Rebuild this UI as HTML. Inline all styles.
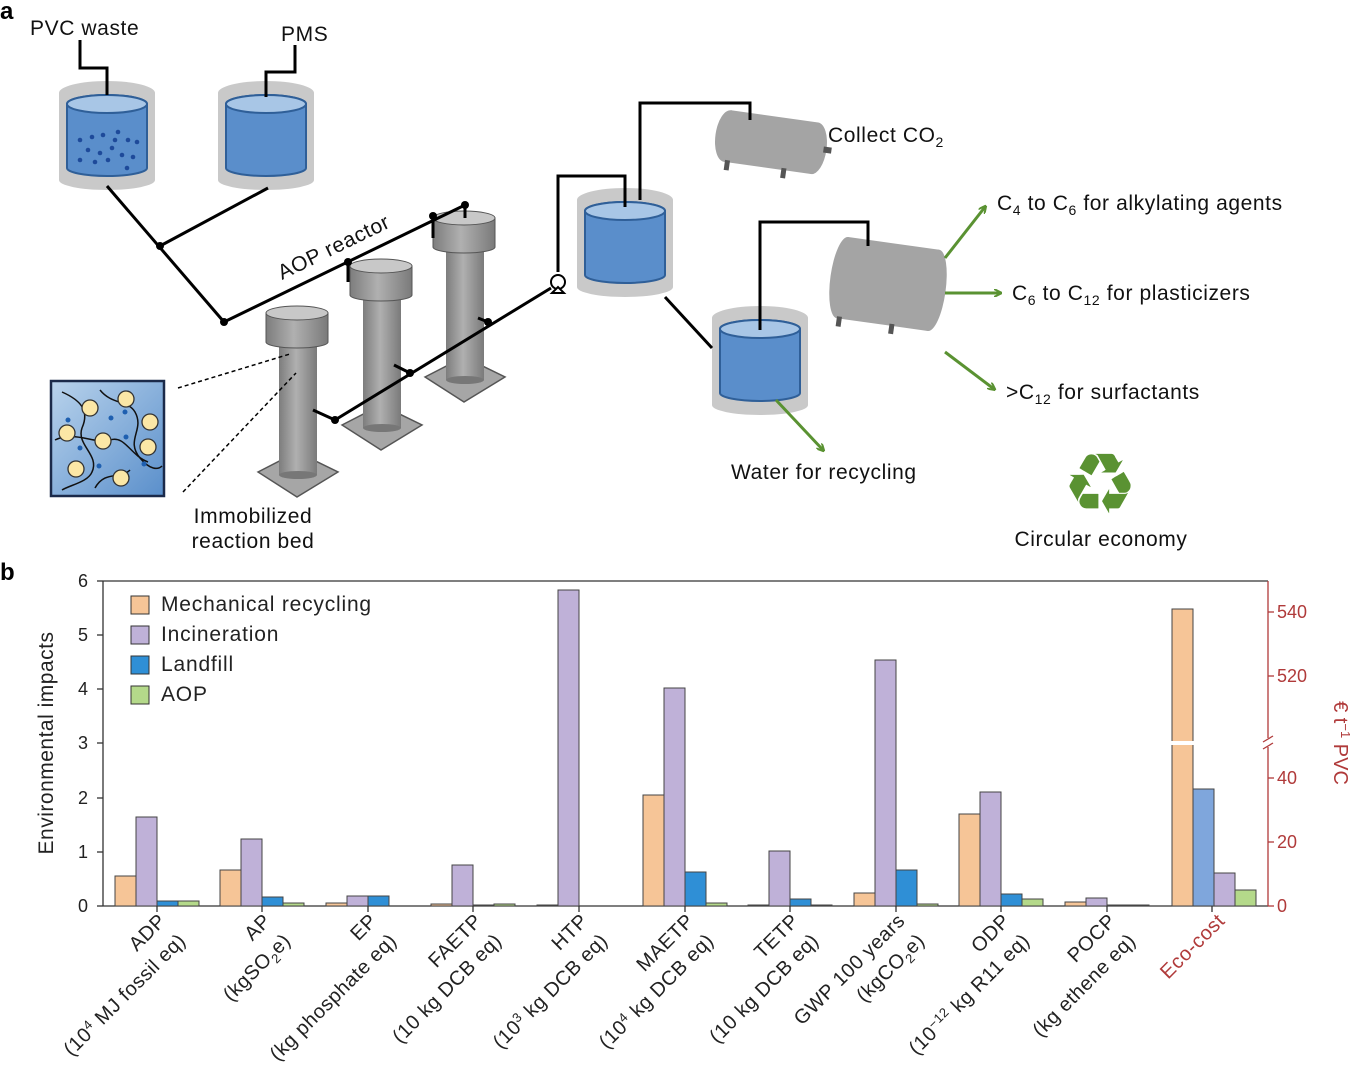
<!DOCTYPE html>
<html><head><meta charset="utf-8"><style>
html,body{margin:0;padding:0;background:#fff;}
svg{display:block;font-family:"Liberation Sans","DejaVu Sans",sans-serif;}
</style></head><body>
<svg width="1354" height="1080" viewBox="0 0 1354 1080" xmlns="http://www.w3.org/2000/svg">
<defs>
<linearGradient id="gr" x1="0" x2="1"><stop offset="0" stop-color="#7d7d7d"/><stop offset="0.45" stop-color="#b0b0b0"/><stop offset="1" stop-color="#7a7a7a"/></linearGradient>
<linearGradient id="inset" x1="0" y1="0" x2="1" y2="1"><stop offset="0" stop-color="#b9d3ec"/><stop offset="1" stop-color="#5a8fcb"/></linearGradient>
<marker id="ga" markerWidth="8" markerHeight="8" refX="6" refY="4" orient="auto" markerUnits="userSpaceOnUse"><path d="M0,0 L8,4 L0,8" fill="none" stroke="#5a9232" stroke-width="2"/></marker>
</defs>
<text x="0" y="19" font-size="24" font-weight="bold">a</text>
<text x="0" y="580" font-size="24" font-weight="bold">b</text>

<g id="t1">
<path d="M59,93 A48,12 0 0 1 155,93 L155,180 A48,10 0 0 1 59,180 Z" fill="#c9c9c9"/>
<path d="M67,104 A40,9 0 0 1 147,104 L147,168 A40,8 0 0 1 67,168 Z" fill="#5a8ecb" stroke="#2f5f98" stroke-width="2"/>
<ellipse cx="107" cy="104" rx="40" ry="9" fill="#a8c6e6" stroke="#2f5f98" stroke-width="2"/>
</g>
<g fill="#1e4a9a">
<circle cx="80" cy="140" r="2.3"/><circle cx="92" cy="137" r="2.3"/><circle cx="103" cy="135" r="2.3"/><circle cx="118" cy="132" r="2.3"/><circle cx="128" cy="140" r="2.3"/><circle cx="137" cy="142" r="2.3"/><circle cx="88" cy="150" r="2.3"/><circle cx="100" cy="153" r="2.3"/><circle cx="112" cy="148" r="2.3"/><circle cx="122" cy="155" r="2.3"/><circle cx="133" cy="157" r="2.3"/><circle cx="80" cy="160" r="2.3"/><circle cx="95" cy="162" r="2.3"/><circle cx="108" cy="160" r="2.3"/><circle cx="127" cy="168" r="2.3"/><circle cx="115" cy="140" r="2.3"/>
</g>
<g transform="translate(159,0)"><use href="#t1"/></g>
<g transform="translate(518,107)"><use href="#t1"/></g>
<g transform="translate(653,225)"><use href="#t1"/></g>

<g transform="rotate(8 770 142)">
<rect x="727" y="116" width="88" height="52" fill="#a4a4a4"/>
<ellipse cx="727" cy="142" rx="12" ry="26" fill="#a4a4a4"/>
<ellipse cx="815" cy="142" rx="12" ry="26" fill="#a4a4a4"/>
<rect x="728" y="166" width="5" height="10" fill="#555"/><rect x="785" y="166" width="5" height="10" fill="#555"/><rect x="824" y="139" width="8" height="6" fill="#555"/>
</g>
<g transform="rotate(8 888 284)">
<rect x="842" y="243" width="92" height="82" fill="#a4a4a4"/>
<ellipse cx="842" cy="284" rx="12" ry="41" fill="#a4a4a4"/>
<ellipse cx="934" cy="284" rx="12" ry="41" fill="#a4a4a4"/>
<rect x="842" y="323" width="5" height="10" fill="#555"/><rect x="895" y="323" width="5" height="10" fill="#555"/>
</g>

<g id="col">
<path d="M258,472 L297,452 L338,472 L297,497 Z" fill="#a6a6a6" stroke="#555" stroke-width="1.5"/>
<rect x="279" y="340" width="38" height="135" fill="url(#gr)"/>
<ellipse cx="298" cy="475" rx="19" ry="4" fill="#777"/>
<path d="M266,313 L266,342 A31,6 0 0 0 328,342 L328,313 Z" fill="url(#gr)" stroke="#555" stroke-width="1"/>
<ellipse cx="297" cy="313" rx="31" ry="7" fill="#c8c8c8" stroke="#555" stroke-width="1"/>
</g>
<g transform="translate(84,-47)"><use href="#col"/></g>
<g transform="translate(167,-95)"><use href="#col"/></g>

<g stroke="#000" stroke-width="3" fill="none">
<polyline points="80,40 80,68 107,68 107,95"/>
<polyline points="295,45 295,72 266,72 266,97"/>
<line x1="107" y1="186" x2="224" y2="322"/>
<line x1="268" y1="188" x2="160" y2="246"/>
<line x1="224" y1="322" x2="465" y2="205"/>
<line x1="348" y1="262" x2="348" y2="282"/>
<line x1="433" y1="216" x2="433" y2="238"/>
<line x1="465" y1="205" x2="465" y2="218"/>
<line x1="313" y1="410" x2="335" y2="420"/>
<line x1="335" y1="420" x2="551" y2="288"/>
<line x1="394" y1="365" x2="410" y2="373"/>
<line x1="478" y1="318" x2="488" y2="322"/>
<polyline points="558,272 558,176 625,176 625,207"/>
<polyline points="640,200 640,103 750,103 750,120"/>
<line x1="665" y1="297" x2="712" y2="348"/>
<polyline points="760,330 760,222 868,222 868,246"/>
</g>
<g fill="#000">
<circle cx="160" cy="246" r="4"/><circle cx="224" cy="322" r="4"/><circle cx="348" cy="262" r="4"/><circle cx="433" cy="216" r="4"/><circle cx="465" cy="205" r="4"/><circle cx="335" cy="420" r="4"/><circle cx="410" cy="373" r="4"/><circle cx="488" cy="322" r="4"/>
</g>
<circle cx="558" cy="282" r="7" fill="#fff" stroke="#000" stroke-width="2"/>
<path d="M552,293 L558,287 L564,293 Z" fill="#fff" stroke="#000" stroke-width="2"/>

<g stroke="#5a9232" stroke-width="3" fill="none" marker-end="url(#ga)">
<line x1="945" y1="258" x2="985" y2="207"/>
<line x1="945" y1="293" x2="1000" y2="293"/>
<line x1="945" y1="352" x2="994" y2="389"/>
<line x1="776" y1="400" x2="823" y2="450"/>
</g>

<line x1="178" y1="388" x2="290" y2="354" stroke="#000" stroke-width="1.5" stroke-dasharray="4,3"/>
<line x1="183" y1="492" x2="296" y2="373" stroke="#000" stroke-width="1.5" stroke-dasharray="4,3"/>
<rect x="51" y="381" width="113" height="115" fill="url(#inset)" stroke="#1b2a4a" stroke-width="2.5"/>
<g stroke="#111" stroke-width="1.5" fill="none">
<path d="M62,392 C80,400 90,410 82,428 C76,445 100,455 92,472 C88,482 70,485 62,490"/>
<path d="M100,390 C112,405 128,400 135,412 C145,430 125,440 140,458 C150,470 158,470 162,466"/>
<path d="M55,440 C75,430 95,445 110,440 C125,435 130,455 148,462"/>
<path d="M95,488 C105,470 120,480 130,470"/>
</g>
<g fill="#fbe7a6" stroke="#333" stroke-width="1.3">
<circle cx="90" cy="408" r="8"/><circle cx="126" cy="399" r="8"/><circle cx="67" cy="433" r="8"/><circle cx="150" cy="422" r="8"/><circle cx="103" cy="441" r="8"/><circle cx="148" cy="447" r="8"/><circle cx="76" cy="469" r="8"/><circle cx="121" cy="478" r="8"/>
</g>
<g fill="#1e5fb0"><circle cx="68" cy="420" r="2.5"/><circle cx="111" cy="418" r="2.5"/><circle cx="126" cy="437" r="2.5"/><circle cx="144" cy="464" r="2.5"/><circle cx="99" cy="466" r="2.5"/><circle cx="80" cy="448" r="2.5"/><circle cx="125" cy="412" r="2.5"/></g>

<g font-size="21" fill="#111" letter-spacing="0.6">
<text x="30" y="35">PVC waste</text>
<text x="281" y="41">PMS</text>
<text x="282" y="280" transform="rotate(-26 282 280)">AOP reactor</text>
<text x="828" y="142">Collect CO<tspan font-size="14" dy="5">2</tspan></text>
<text x="997" y="210">C<tspan font-size="14" dy="5">4</tspan><tspan dy="-5"> to C</tspan><tspan font-size="14" dy="5">6</tspan><tspan dy="-5"> for alkylating agents</tspan></text>
<text x="1012" y="300">C<tspan font-size="14" dy="5">6</tspan><tspan dy="-5"> to C</tspan><tspan font-size="14" dy="5">12</tspan><tspan dy="-5"> for plasticizers</tspan></text>
<text x="1006" y="399">&gt;C<tspan font-size="14" dy="5">12</tspan><tspan dy="-5"> for surfactants</tspan></text>
<text x="731" y="479">Water for recycling</text>
<text x="253" y="523" text-anchor="middle">Immobilized</text>
<text x="253" y="548" text-anchor="middle">reaction bed</text>
<text x="1101" y="546" text-anchor="middle">Circular economy</text>
</g>
<text x="1100" y="513" font-size="84" fill="#5a9232" text-anchor="middle" font-family="DejaVu Sans">♻</text>

<g stroke="#333" stroke-width="1.3" fill="none">
<line x1="103" y1="581" x2="1268" y2="581"/>
<line x1="103" y1="581" x2="103" y2="906"/>
<line x1="103" y1="906" x2="1268" y2="906"/>
</g>
<line x1="1268" y1="581" x2="1268" y2="906" stroke="#b03a3a" stroke-width="1.3"/>
<g stroke="#333" stroke-width="1.3">
<line x1="97" y1="581" x2="103" y2="581"/><line x1="97" y1="635" x2="103" y2="635"/><line x1="97" y1="689" x2="103" y2="689"/><line x1="97" y1="743" x2="103" y2="743"/><line x1="97" y1="798" x2="103" y2="798"/><line x1="97" y1="852" x2="103" y2="852"/><line x1="97" y1="906" x2="103" y2="906"/>
</g>
<g font-size="18" fill="#222" text-anchor="end">
<text x="88" y="587">6</text><text x="88" y="641">5</text><text x="88" y="695">4</text><text x="88" y="749">3</text><text x="88" y="804">2</text><text x="88" y="858">1</text><text x="88" y="912">0</text>
</g>
<text transform="translate(53 743) rotate(-90)" font-size="21" fill="#222" text-anchor="middle" letter-spacing="0.5">Environmental impacts</text>
<g stroke="#b03a3a" stroke-width="1.3">
<line x1="1268" y1="612" x2="1274" y2="612"/><line x1="1268" y1="676" x2="1274" y2="676"/><line x1="1268" y1="778" x2="1274" y2="778"/><line x1="1268" y1="842" x2="1274" y2="842"/><line x1="1268" y1="906" x2="1274" y2="906"/>
</g>
<rect x="1262" y="738" width="12" height="9" fill="#fff"/>
<g stroke="#b03a3a" stroke-width="1.3"><line x1="1263" y1="742" x2="1273" y2="736"/><line x1="1263" y1="749" x2="1273" y2="743"/></g>
<g font-size="18" fill="#b03a3a">
<text x="1277" y="618">540</text><text x="1277" y="682">520</text><text x="1277" y="784">40</text><text x="1277" y="848">20</text><text x="1277" y="912">0</text>
</g>
<text transform="translate(1334 743) rotate(90)" font-size="20" fill="#b03a3a" text-anchor="middle">€ t<tspan font-size="13" dy="-7">−1</tspan><tspan dy="7"> PVC</tspan></text>

<g stroke="#333" stroke-width="1">
<rect x="131" y="596" width="18" height="18" fill="#f6c597"/>
<rect x="131" y="626" width="18" height="18" fill="#bfb1d8"/>
<rect x="131" y="656" width="18" height="18" fill="#2f8fd6"/>
<rect x="131" y="686" width="18" height="18" fill="#b4d98a"/>
</g>
<g font-size="21" fill="#222" letter-spacing="0.8">
<text x="161" y="611">Mechanical recycling</text><text x="161" y="641">Incineration</text><text x="161" y="671">Landfill</text><text x="161" y="701">AOP</text>
</g>

<g stroke="#444" stroke-width="1">
<rect x="115" y="876" width="21" height="30" fill="#f6c597"/><rect x="136" y="817" width="21" height="89" fill="#bfb1d8"/><rect x="157" y="901" width="21" height="5" fill="#2f8fd6"/><rect x="178" y="901" width="21" height="5" fill="#b4d98a"/>
<rect x="220" y="870" width="21" height="36" fill="#f6c597"/><rect x="241" y="839" width="21" height="67" fill="#bfb1d8"/><rect x="262" y="897" width="21" height="9" fill="#2f8fd6"/><rect x="283" y="903" width="21" height="3" fill="#b4d98a"/>
<rect x="326" y="903" width="21" height="3" fill="#f6c597"/><rect x="347" y="896" width="21" height="10" fill="#bfb1d8"/><rect x="368" y="896" width="21" height="10" fill="#2f8fd6"/>
<rect x="431" y="904" width="21" height="2" fill="#f6c597"/><rect x="452" y="865" width="21" height="41" fill="#bfb1d8"/><rect x="473" y="905" width="21" height="1" fill="#2f8fd6"/><rect x="494" y="904" width="21" height="2" fill="#b4d98a"/>
<rect x="537" y="905" width="21" height="1" fill="#f6c597"/><rect x="558" y="590" width="21" height="316" fill="#bfb1d8"/>
<rect x="643" y="795" width="21" height="111" fill="#f6c597"/><rect x="664" y="688" width="21" height="218" fill="#bfb1d8"/><rect x="685" y="872" width="21" height="34" fill="#2f8fd6"/><rect x="706" y="903" width="21" height="3" fill="#b4d98a"/>
<rect x="748" y="905" width="21" height="1" fill="#f6c597"/><rect x="769" y="851" width="21" height="55" fill="#bfb1d8"/><rect x="790" y="899" width="21" height="7" fill="#2f8fd6"/><rect x="811" y="905" width="21" height="1" fill="#b4d98a"/>
<rect x="854" y="893" width="21" height="13" fill="#f6c597"/><rect x="875" y="660" width="21" height="246" fill="#bfb1d8"/><rect x="896" y="870" width="21" height="36" fill="#2f8fd6"/><rect x="917" y="904" width="21" height="2" fill="#b4d98a"/>
<rect x="959" y="814" width="21" height="92" fill="#f6c597"/><rect x="980" y="792" width="21" height="114" fill="#bfb1d8"/><rect x="1001" y="894" width="21" height="12" fill="#2f8fd6"/><rect x="1022" y="899" width="21" height="7" fill="#b4d98a"/>
<rect x="1065" y="902" width="21" height="4" fill="#f6c597"/><rect x="1086" y="898" width="21" height="8" fill="#bfb1d8"/><rect x="1107" y="905" width="21" height="1" fill="#2f8fd6"/><rect x="1128" y="905" width="21" height="1" fill="#b4d98a"/>
<rect x="1172" y="609" width="21" height="297" fill="#f6c597"/><rect x="1193" y="789" width="21" height="117" fill="#7fa6dc"/><rect x="1214" y="873" width="21" height="33" fill="#bfb1d8"/><rect x="1235" y="890" width="21" height="16" fill="#b4d98a"/>
</g>
<rect x="1170" y="741" width="25" height="4" fill="#fff"/>

<g stroke="#333" stroke-width="1.3">
<line x1="157" y1="906" x2="157" y2="912"/><line x1="262" y1="906" x2="262" y2="912"/><line x1="368" y1="906" x2="368" y2="912"/><line x1="473" y1="906" x2="473" y2="912"/><line x1="579" y1="906" x2="579" y2="912"/><line x1="685" y1="906" x2="685" y2="912"/><line x1="790" y1="906" x2="790" y2="912"/><line x1="896" y1="906" x2="896" y2="912"/><line x1="1001" y1="906" x2="1001" y2="912"/><line x1="1107" y1="906" x2="1107" y2="912"/><line x1="1212" y1="906" x2="1212" y2="912"/>
</g>

<g font-size="20" fill="#222" text-anchor="end" letter-spacing="0.5">
<text transform="translate(167 922) rotate(-45)"><tspan x="0" y="0">ADP</tspan><tspan x="0" y="28">(10<tspan font-size="13" dy="-7">4</tspan><tspan dy="7"> MJ fossil eq)</tspan></tspan></text>
<text transform="translate(272 922) rotate(-45)"><tspan x="0" y="0">AP</tspan><tspan x="0" y="28">(kgSO<tspan font-size="13" dy="5">2</tspan><tspan dy="-5">e)</tspan></tspan></text>
<text transform="translate(378 922) rotate(-45)"><tspan x="0" y="0">EP</tspan><tspan x="0" y="28">(kg phosphate eq)</tspan></text>
<text transform="translate(483 922) rotate(-45)"><tspan x="0" y="0">FAETP</tspan><tspan x="0" y="28">(10 kg DCB eq)</tspan></text>
<text transform="translate(589 922) rotate(-45)"><tspan x="0" y="0">HTP</tspan><tspan x="0" y="28">(10<tspan font-size="13" dy="-7">3</tspan><tspan dy="7"> kg DCB eq)</tspan></tspan></text>
<text transform="translate(695 922) rotate(-45)"><tspan x="0" y="0">MAETP</tspan><tspan x="0" y="28">(10<tspan font-size="13" dy="-7">4</tspan><tspan dy="7"> kg DCB eq)</tspan></tspan></text>
<text transform="translate(800 922) rotate(-45)"><tspan x="0" y="0">TETP</tspan><tspan x="0" y="28">(10 kg DCB eq)</tspan></text>
<text transform="translate(906 922) rotate(-45)"><tspan x="0" y="0">GWP 100 years</tspan><tspan x="0" y="28">(kgCO<tspan font-size="13" dy="5">2</tspan><tspan dy="-5">e)</tspan></tspan></text>
<text transform="translate(1011 922) rotate(-45)"><tspan x="0" y="0">ODP</tspan><tspan x="0" y="28">(10<tspan font-size="13" dy="-7">−12</tspan><tspan dy="7"> kg R11 eq)</tspan></tspan></text>
<text transform="translate(1117 922) rotate(-45)"><tspan x="0" y="0">POCP</tspan><tspan x="0" y="28">(kg ethene eq)</tspan></text>
<text transform="translate(1226 922) rotate(-45)" fill="#b03a3a">Eco-cost</text>
</g>
</svg>
</body></html>
